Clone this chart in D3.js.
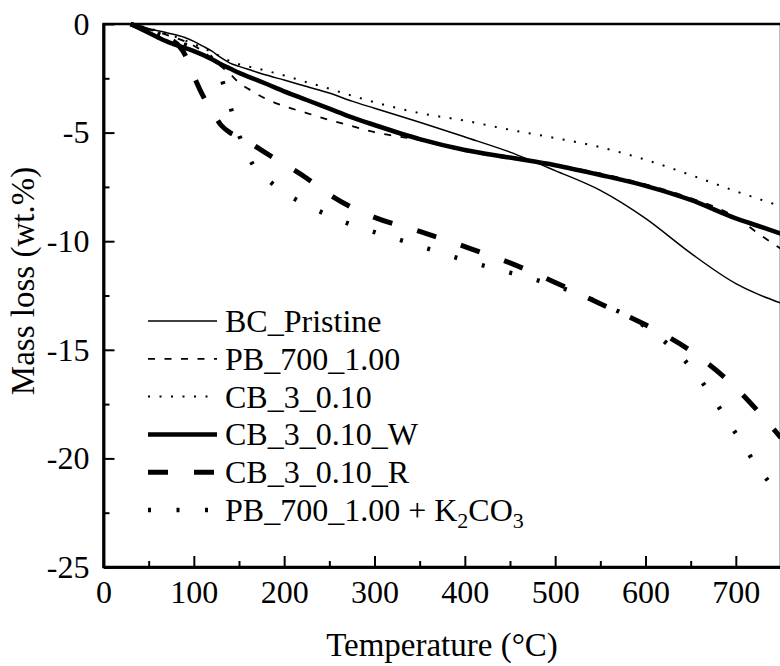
<!DOCTYPE html>
<html>
<head>
<meta charset="utf-8">
<script src="https://cdn.jsdelivr.net/npm/d3@7"></script>
<style>
  body { margin: 0; background: #fff; }
  svg text { font-family: "Liberation Serif", "Times New Roman", serif; fill: #000; }
</style>
</head>
<body>
<div id="chart"></div>
<script>
// temperature grid (°C) shared by all curves
const temps = [30, 50, 70, 90, 100, 110, 120, 130, 140, 150, 165, 180, 200, 225, 250, 275, 300, 350, 400, 450, 500, 550, 600, 650, 700, 725, 750];

// mass loss (wt.%)
const bcPristine = [0, -0.22, -0.4, -0.62, -0.8, -1.02, -1.25, -1.55, -1.8, -1.95, -2.15, -2.35, -2.58, -2.88, -3.18, -3.55, -3.88, -4.52, -5.2, -5.9, -6.75, -7.66, -8.95, -10.55, -11.95, -12.45, -12.85];
const pb700 = [0, -0.25, -0.5, -0.8, -1.0, -1.25, -1.6, -1.95, -2.3, -2.7, -3.1, -3.45, -3.78, -4.1, -4.42, -4.7, -4.98, -5.35, -5.85, -6.2, -6.48, -6.88, -7.38, -8.02, -8.9, -9.65, -10.35];
const cb3 = [0, -0.2, -0.45, -0.75, -0.92, -1.1, -1.3, -1.5, -1.7, -1.85, -2.0, -2.15, -2.37, -2.68, -2.98, -3.3, -3.6, -4.1, -4.45, -4.87, -5.25, -5.67, -6.25, -6.95, -7.7, -8.05, -8.4];
const cb3W = [0, -0.4, -0.8, -1.1, -1.25, -1.42, -1.62, -1.85, -2.05, -2.25, -2.5, -2.75, -3.1, -3.5, -3.9, -4.3, -4.65, -5.3, -5.8, -6.15, -6.5, -6.95, -7.45, -8.1, -8.95, -9.3, -9.65];
const cb3R = [0, -0.3, -0.6, -1.4, -2.4, -3.3, -4.0, -4.65, -5.0, -5.2, -5.55, -5.95, -6.45, -7.1, -7.85, -8.45, -8.9, -9.55, -10.25, -11.0, -11.9, -12.88, -13.85, -15.05, -16.75, -17.85, -19.05];
const pb700K = [0, -0.3, -0.6, -0.95, -1.1, -1.3, -1.6, -2.45, -3.75, -5.1, -6.45, -7.1, -7.75, -8.35, -8.82, -9.25, -9.58, -10.22, -10.88, -11.45, -12.05, -12.85, -13.95, -15.8, -18.85, -20.45, -21.75];

const seriesNames = ["BC_Pristine", "PB_700_1.00", "CB_3_0.10", "CB_3_0.10_W", "CB_3_0.10_R", "PB_700_1.00 + K2CO3"];
const seriesValues = [bcPristine, pb700, cb3, cb3W, cb3R, pb700K];

const xTicks = [0, 100, 200, 300, 400, 500, 600, 700];
const xMinor = [50, 150, 250, 350, 450, 550, 650, 750];
const yTicks = [0, -5, -10, -15, -20, -25];
const yMinor = [-2.5, -7.5, -12.5, -17.5, -22.5];

// line looks, same order as the series
const styles = [
  { w: 1.5, dash: null },
  { w: 1.8, dash: "7,9.5" },
  { w: 2, dash: "2,9.5" },
  { w: 4.5, dash: null },
  { w: 5, dash: "20,26" },
  { w: 4.5, dash: "3,25.5" }
];

const W = 780, H = 666;
const margin = { top: 24, right: -1, bottom: 99, left: 103.5 };

const svg = d3.select("#chart").append("svg")
  .attr("width", W)
  .attr("height", H);

const x = d3.scaleLinear().domain([0, 750]).range([margin.left, W - margin.right]);
const y = d3.scaleLinear().domain([-25, 0]).range([H - margin.bottom, margin.top]);

// curves
const line = d3.line()
  .x((d, i) => x(temps[i]))
  .y(d => y(d))
  .curve(d3.curveMonotoneX);

svg.append("g").selectAll("path")
  .data(seriesValues)
  .join("path")
  .attr("d", d => line(d))
  .attr("fill", "none")
  .attr("stroke", "#000")
  .attr("stroke-width", (d, i) => styles[i].w)
  .attr("stroke-dasharray", (d, i) => styles[i].dash);

// frame
svg.append("rect")
  .attr("x", x(0))
  .attr("y", y(0))
  .attr("width", x(750) - x(0))
  .attr("height", y(-25) - y(0))
  .attr("fill", "none")
  .attr("stroke", "#000")
  .attr("stroke-width", 2.5);

// axes, ticks pointing inward
const fmt = d => String(d);

const xAxis = svg.append("g")
  .attr("transform", `translate(0,${y(-25)})`)
  .call(d3.axisBottom(x).tickValues(xTicks).tickFormat(fmt)
    .tickSizeInner(-11).tickSizeOuter(0).tickPadding(13));
svg.append("g")
  .attr("transform", `translate(0,${y(-25)})`)
  .call(d3.axisBottom(x).tickValues(xMinor).tickFormat("")
    .tickSizeInner(-6).tickSizeOuter(0));

const yAxis = svg.append("g")
  .attr("transform", `translate(${x(0)},0)`)
  .call(d3.axisLeft(y).tickValues(yTicks).tickFormat(fmt)
    .tickSizeInner(-11).tickSizeOuter(0).tickPadding(14));
svg.append("g")
  .attr("transform", `translate(${x(0)},0)`)
  .call(d3.axisLeft(y).tickValues(yMinor).tickFormat("")
    .tickSizeInner(-6).tickSizeOuter(0));

svg.selectAll(".domain").attr("stroke-width", 2.5);
svg.selectAll(".tick line").attr("stroke-width", 2);
svg.selectAll(".tick text")
  .attr("font-size", 32)
  .attr("font-family", null);

// axis titles
svg.append("text")
  .attr("x", 442)
  .attr("y", 656)
  .attr("text-anchor", "middle")
  .attr("font-size", 33)
  .text("Temperature (°C)");

svg.append("text")
  .attr("transform", "translate(34,281) rotate(-90)")
  .attr("text-anchor", "middle")
  .attr("font-size", 33)
  .text("Mass loss (wt.%)");

// legend
const legend = svg.append("g");
const rowY = i => 321 + i * 37.8;

legend.selectAll("line")
  .data(seriesNames)
  .join("line")
  .attr("x1", 148)
  .attr("x2", 217)
  .attr("y1", (d, i) => rowY(i))
  .attr("y2", (d, i) => rowY(i))
  .attr("stroke", "#000")
  .attr("stroke-width", (d, i) => styles[i].w)
  .attr("stroke-dasharray", (d, i) => styles[i].dash);

legend.selectAll("text")
  .data(seriesNames)
  .join("text")
  .attr("x", 225)
  .attr("y", (d, i) => rowY(i) + 11)
  .attr("font-size", 32)
  .each(function (d) {
    const t = d3.select(this);
    const m = d.match(/^(.*K)2CO3$/);
    if (!m) { t.text(d); return; }
    // subscripts for K2CO3
    t.append("tspan").text(m[1]);
    t.append("tspan").attr("dy", 7).attr("font-size", 22).text("2");
    t.append("tspan").attr("dy", -7).text("CO");
    t.append("tspan").attr("dy", 7).attr("font-size", 22).text("3");
  });
</script>
</body>
</html>
